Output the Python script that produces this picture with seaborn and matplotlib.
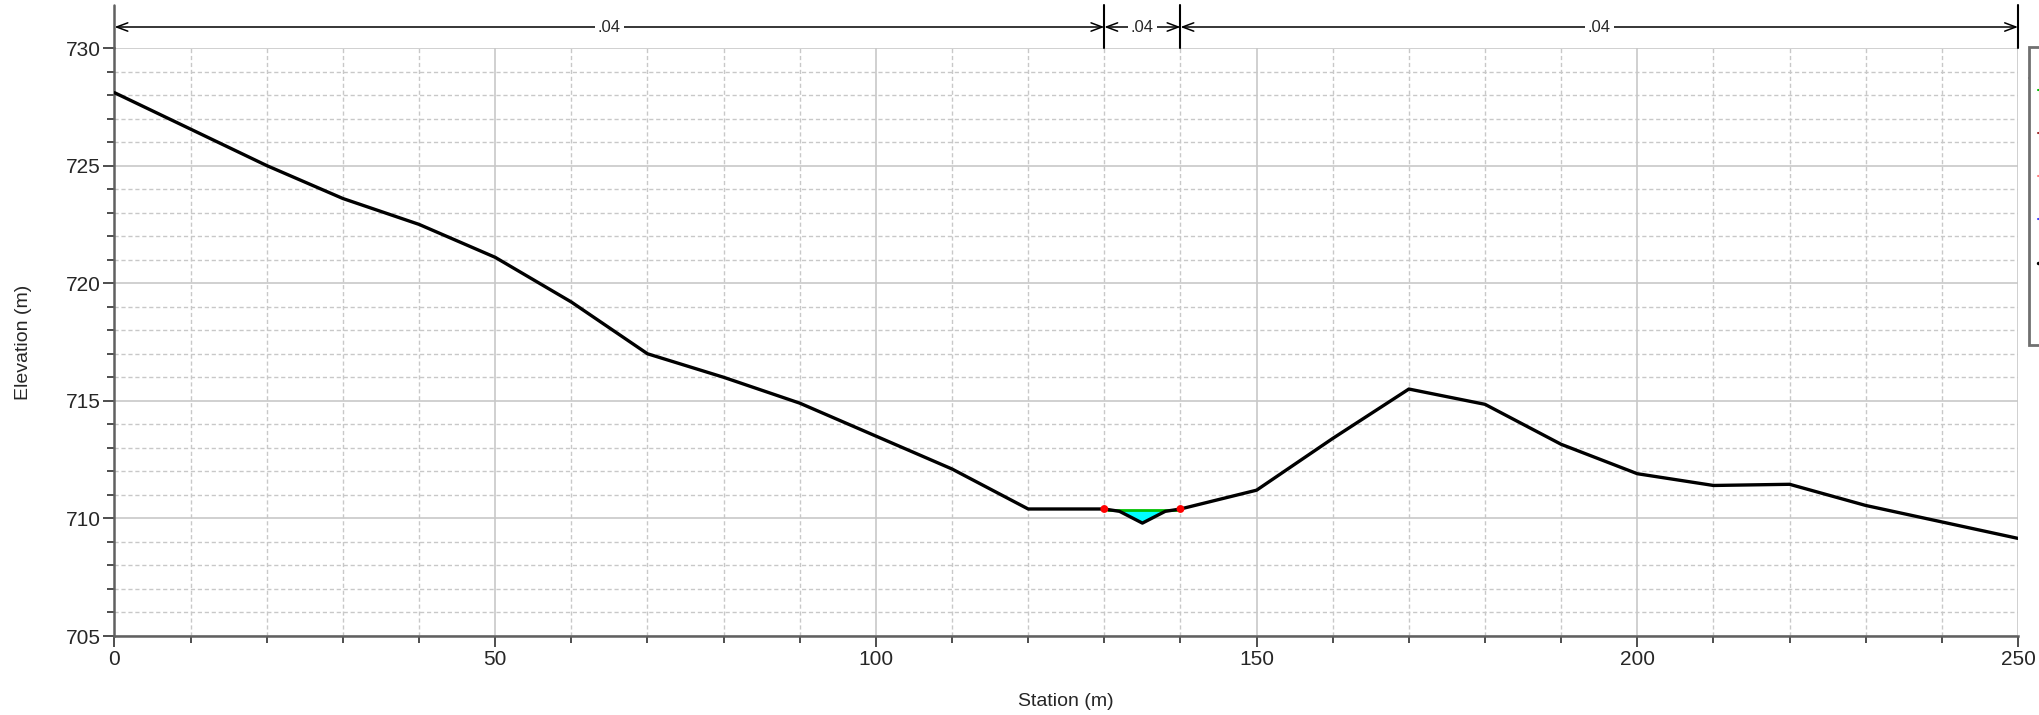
import numpy as np
import pandas as pd
import seaborn as sns
import matplotlib.pyplot as plt
from matplotlib.lines import Line2D
from matplotlib.ticker import MultipleLocator
import matplotlib.transforms as mtransforms

# ground profile
station = [0, 10, 20, 30, 40, 50, 60, 70, 80, 90, 100, 110, 120, 130, 132, 135, 138, 140,
           150, 160, 170, 180, 190, 200, 210, 220, 230, 240, 250]
elevation = [728.1, 726.55, 725.0, 723.6, 722.5, 721.1, 719.2, 717.0, 716.0, 714.9, 713.5, 712.1,
             710.4, 710.4, 710.3, 709.8, 710.3, 710.4, 711.2, 713.4, 715.5, 714.85, 713.15,
             711.9, 711.4, 711.45, 710.55, 709.85, 709.15]
bank_sta = [130, 140]
bank_elev = [710.4, 710.4]
ws_elev = 710.37

# manning n values between breaks
n_breaks = [0, 130, 140, 250]
n_labels = [".04", ".04", ".04"]

legend_labels = ["EG PF 1", "Crit PF 1", "Vel Head", "WS PF 1", "Ground", "Bank Sta\n"]
legend_colors = ["#00c000", "#a03030", "#ff8080", "#4040ff", "black"]

ground = pd.DataFrame({"Station (m)": station, "Elevation (m)": elevation})
banks = pd.DataFrame({"Station (m)": bank_sta, "Elevation (m)": bank_elev})

sns.set_style("white")
plt.rcParams["font.family"] = ["Liberation Sans", "DejaVu Sans"]

fig = plt.figure(figsize=(20.4, 7.15), dpi=100)
ax = fig.add_axes([114.5 / 2040, 1 - 636 / 715, (2018 - 114.5) / 2040, (636 - 48) / 715])

# water in channel
st = np.array(station, dtype=float)
el = np.array(elevation)
mask = (st >= bank_sta[0]) & (st <= bank_sta[1])
ax.fill_between(st[mask], el[mask], ws_elev, where=el[mask] <= ws_elev + 0.05,
                color="#00ffff", interpolate=True, zorder=2, linewidth=0)
ax.plot([bank_sta[0] + 0.5, bank_sta[1] - 0.5], [ws_elev, ws_elev], color="#00c000", lw=2, zorder=3)

sns.lineplot(data=ground, x="Station (m)", y="Elevation (m)", color="black", linewidth=2.4,
             sort=False, ax=ax, zorder=4)
sns.scatterplot(data=banks, x="Station (m)", y="Elevation (m)", color="red", s=32,
                edgecolor="none", ax=ax, zorder=5)

ax.set_xlim(0, 250)
ax.set_ylim(705, 730)
ax.xaxis.set_major_locator(MultipleLocator(50))
ax.xaxis.set_minor_locator(MultipleLocator(10))
ax.yaxis.set_major_locator(MultipleLocator(5))
ax.yaxis.set_minor_locator(MultipleLocator(1))
ax.grid(which="major", color="#c8c8c8", linestyle="-", linewidth=1.2, zorder=0)
ax.grid(which="minor", color="#c8c8c8", linestyle=(0, (3, 2)), linewidth=1.0, zorder=0)
ax.set_axisbelow(True)
for s in ["top", "right"]:
    ax.spines[s].set_visible(False)
for s in ["left", "bottom"]:
    ax.spines[s].set_color("#606060")
    ax.spines[s].set_linewidth(1.8)
ax.tick_params(which="major", direction="out", length=8, width=1.2, color="#303030",
               labelsize=15, pad=2, left=True, bottom=True)
ax.tick_params(which="minor", direction="out", length=5, width=1.2, color="#303030",
               left=True, bottom=True)
ax.set_xlabel("Station (m)", fontsize=14, labelpad=17)
ax.set_ylabel("Elevation (m)", fontsize=14, labelpad=24)

# n value dimension lines above the plot
trans = mtransforms.blended_transform_factory(ax.transData, ax.transAxes)
top_frac = 1 + 43 / 588
arrow_frac = 1 + 21 / 588
for xb in n_breaks:
    ax.plot([xb, xb], [1, top_frac], transform=trans, clip_on=False,
            color="#606060" if xb == 0 else "black", lw=1.8 if xb == 0 else 1.5, zorder=6)
for x0, x1, lab in zip(n_breaks[:-1], n_breaks[1:], n_labels):
    ax.annotate("", xy=(x0, arrow_frac), xytext=(x1, arrow_frac), xycoords=trans,
                textcoords=trans, annotation_clip=False,
                arrowprops=dict(arrowstyle="<->,head_length=0.8,head_width=0.3",
                                color="black", lw=1.1, shrinkA=0, shrinkB=0))
    ax.text((x0 + x1) / 2, arrow_frac, lab, transform=trans, ha="center", va="center",
            fontsize=12, bbox=dict(facecolor="white", edgecolor="none", pad=2))

# legend, mostly off the right edge
handles = [Line2D([0], [0], color=c, lw=1.5) for c in legend_colors[:4]]
handles.append(Line2D([0], [0], color=legend_colors[4], lw=2.5))
handles.append(Line2D([0], [0], color="none", lw=0))
leg = fig.legend(handles, legend_labels, loc="upper left", title="Legend",
                 bbox_to_anchor=(2029 / 2040, 1 - 47 / 715), borderaxespad=0,
                 fontsize=13, title_fontsize=1, labelspacing=1.45, borderpad=0.5,
                 handletextpad=0.5, fancybox=False, framealpha=1, edgecolor="#707070")
leg.get_frame().set_linewidth(2)
fig.add_artist(Line2D([2029 / 2040, 1], [1 - 78 / 715, 1 - 78 / 715],
                      transform=fig.transFigure, color="#707070", lw=1.5))

fig.savefig("out.png", dpi=100)
